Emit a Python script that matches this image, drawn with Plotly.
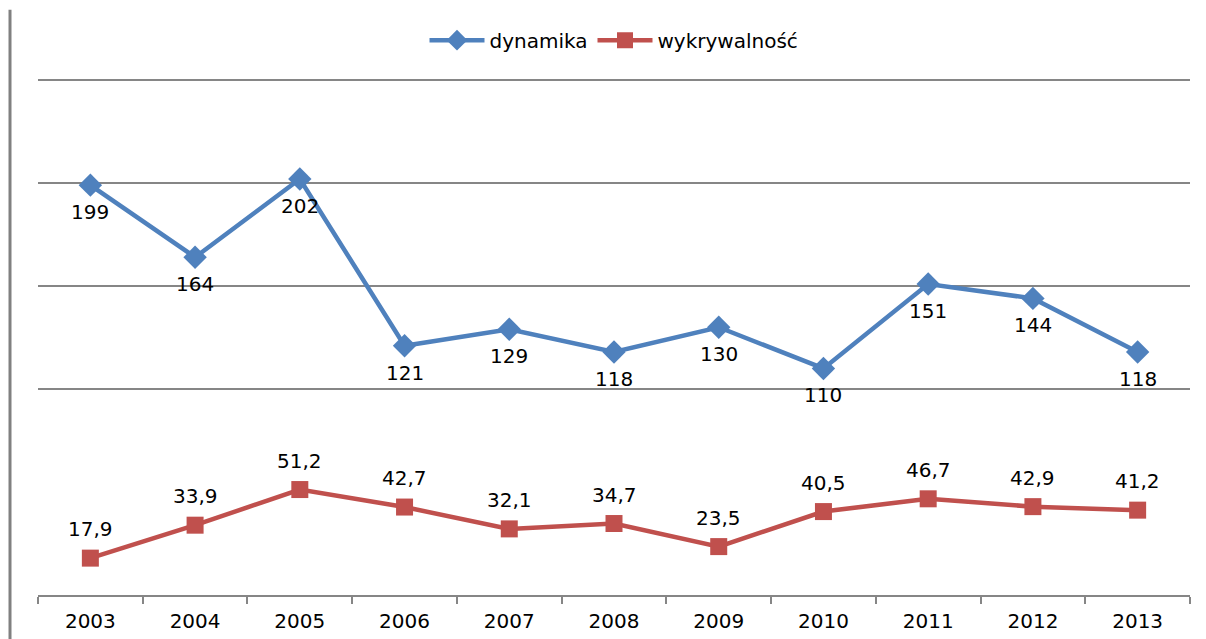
import plotly.graph_objects as go

years = ["2003", "2004", "2005", "2006", "2007", "2008", "2009", "2010", "2011", "2012", "2013"]
dynamika = [199, 164, 202, 121, 129, 118, 130, 110, 151, 144, 118]
wykrywalnosc = [17.9, 33.9, 51.2, 42.7, 32.1, 34.7, 23.5, 40.5, 46.7, 42.9, 41.2]
grid_values = [100, 150, 200, 250]

blue = "#4F81BD"
red = "#C0504D"
gray = "#868686"
font_name = "DejaVu Sans"

fig = go.Figure()

fig.add_trace(go.Scatter(
    x=years, y=dynamika, name="dynamika",
    mode="lines+markers",
    line=dict(color=blue, width=4.5),
    marker=dict(symbol="diamond", size=18, color=blue),
))
fig.add_trace(go.Scatter(
    x=years, y=wykrywalnosc, name="wykrywalność",
    mode="lines+markers",
    line=dict(color=red, width=4.5),
    marker=dict(symbol="square", size=17, color=red),
))

# etykiety danych (na osi kategorii x jako indeks)
for i, v in enumerate(dynamika):
    fig.add_annotation(x=i, y=v, text=str(v), showarrow=False,
                       yshift=-27, font=dict(size=20, color="black", family=font_name))
for i, v in enumerate(wykrywalnosc):
    fig.add_annotation(x=i, y=v, text=f"{v:.1f}".replace(".", ","), showarrow=False,
                       yshift=29, font=dict(size=20, color="black", family=font_name))

# pionowa linia po lewej stronie
fig.add_shape(type="line", xref="paper", yref="paper",
              x0=-0.0243, x1=-0.0243, y0=1.13, y1=-0.12,
              line=dict(color="#808080", width=3))

fig.update_xaxes(
    type="category",
    range=[-0.5, len(years) - 0.5],
    tickson="boundaries",
    ticks="outside", ticklen=7, tickcolor=gray, tickwidth=1.5,
    showline=True, linecolor=gray, linewidth=1.5,
    showgrid=False,
    tickangle=0,
    automargin=False,
    ticklabelstandoff=7,
    tickfont=dict(size=20, color="black", family=font_name),
)
fig.update_yaxes(
    range=[0, 251.5],
    tickvals=grid_values,
    showticklabels=False,
    showgrid=True, gridcolor=gray, gridwidth=1.5,
    zeroline=False, showline=False,
)

# strona ma margines 8px, stąd przesunięte marginesy
fig.update_layout(
    width=1206, height=639,
    plot_bgcolor="white", paper_bgcolor="white",
    margin=dict(l=30, r=24, t=69, b=52),
    font=dict(family=font_name, size=20, color="black"),
    legend=dict(orientation="h", x=0.5, xanchor="center", y=1.071, yanchor="middle",
                itemwidth=55, font=dict(size=20, family=font_name)),
)

fig.write_html("out.html")
